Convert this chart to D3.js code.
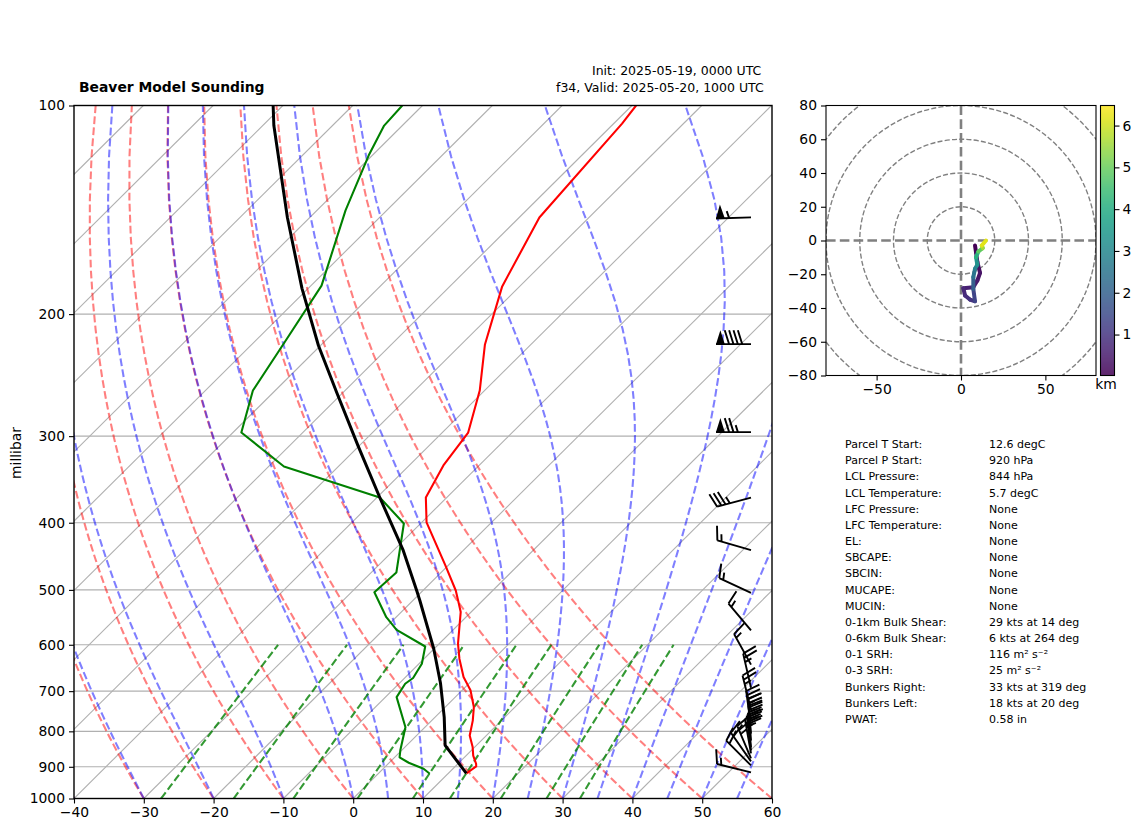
<!DOCTYPE html>
<html>
<head>
<meta charset="utf-8">
<script src="https://cdn.jsdelivr.net/npm/d3@7"></script>
<style>
  body { margin: 0; background: #fff; }
  text { font-family: "DejaVu Sans", sans-serif; fill: #000; }
  .tick text { font-size: 13.89px; }
</style>
</head>
<body>
<div id="chart"></div>
<script>
/* Sounding values */
const tempP = [100, 106.2, 145.1, 182.4, 221.2, 257.8, 296.4, 330.7, 367.8, 399.6, 461, 501, 523, 538, 598, 629, 668, 698, 738, 772, 811, 843, 867, 891, 899, 920];
const tempC = [-59.4, -58.8, -57.1, -52.5, -46.6, -40.7, -36.3, -35.1, -33, -29.3, -20.4, -15.3, -13, -11.5, -7.3, -4.9, -1.7, 1.2, 4.1, 5.9, 7.6, 9.7, 11, 12.6, 13, 12.6];

const dewP = [100, 106.9, 118.1, 141.7, 181.9, 219.8, 257.8, 296.4, 331.8, 367.8, 401, 472, 504, 547.5, 571, 603.5, 639, 670, 683, 714, 789, 852, 872, 888, 906, 921];
const dewC = [-92.9, -92.6, -90.5, -85.9, -78.5, -75.6, -73.2, -68.8, -57.8, -39.6, -32.4, -26.4, -26.7, -21.4, -18.1, -11.6, -9.6, -8.8, -9.1, -8.4, -2.8, -0.2, 0.7, 2.8, 5.8, 7.4];

const parcelP = [100, 106.9, 145.1, 183.6, 222, 260.4, 309.6, 367.8, 438.6, 501, 518, 607.5, 682, 763, 838, 920];
const parcelC = [-111.4, -108.4, -93.2, -80.9, -70.3, -60.7, -50.2, -39.6, -28.6, -20.9, -19, -10.1, -4.1, 1.3, 5.5, 12.6];

const barbP = [145, 221, 296, 368, 438, 505, 572, 641, 692, 744, 785, 806, 825, 844, 852, 861, 875, 884, 896, 917];
const barbSpeed = [55, 90, 75, 35, 15, 15, 15, 15, 25, 25, 35, 35, 35, 35, 30, 25, 25, 20, 20, 15];
const barbDir = [268, 270, 270, 255, 286, 295, 320, 331, 347, 346, 352, 355, 356, 355, 353, 350, 337, 325, 315, 284];

const hodoU = [8.3, 8.9, 9.7, 11.3, 9.7, 7.3, 1.4, 2.4, 5.3, 8.3, 7.3, 7.3, 8.3, 9.7, 8.9, 10.3, 12.9, 12.3, 14.8];
const hodoV = [-3, -6.9, -12.8, -19.2, -23.7, -27.7, -28.3, -32.6, -35, -36, -28.7, -21.7, -16.8, -14.4, -9.9, -6.5, -4.5, -3, 0];
const hodoKm = [0.02, 0.1, 0.2, 0.3, 0.42, 0.55, 0.7, 0.8, 0.95, 1.1, 1.6, 2.3, 2.7, 3.0, 3.7, 4.5, 5.3, 5.9, 6.48];

/* Ticks and reference line starts */
const pressureTicks = [100, 200, 300, 400, 500, 600, 700, 800, 900, 1000];
const tempTicks = d3.range(-40, 61, 10);
const isotherms = d3.range(-130, 61, 10);
const dryStarts = d3.range(-40, 61, 10);
const moistStarts = [-40, -30, -20, -10, 0, 5, 10, 15, 20, 25, 30, 35, 40, 45, 50, 55, 60];
const mixingRatios = [0.0004, 0.001, 0.002, 0.004, 0.007, 0.01, 0.016, 0.024, 0.032];
const hodoRings = [20, 40, 60, 80, 100];
const hodoXTicks = [-50, 0, 50];
const hodoYTicks = [-80, -60, -40, -20, 0, 20, 40, 60, 80];
const kmTicks = [1, 2, 3, 4, 5, 6];

/* Text table */
const statLabels = ["Parcel T Start:", "Parcel P Start:", "LCL Pressure:", "LCL Temperature:", "LFC Pressure:", "LFC Temperature:", "EL:", "SBCAPE:", "SBCIN:", "MUCAPE:", "MUCIN:", "0-1km Bulk Shear:", "0-6km Bulk Shear:", "0-1 SRH:", "0-3 SRH:", "Bunkers Right:", "Bunkers Left:", "PWAT:"];
const statValues = ["12.6 degC", "920 hPa", "844 hPa", "5.7 degC", "None", "None", "None", "None", "None", "None", "None", "29 kts at 14 deg", "6 kts at 264 deg", "116 m² s⁻²", "25 m² s⁻²", "33 kts at 319 deg", "18 kts at 20 deg", "0.58 in"];

/* Layout */
const plot = { left: 74, right: 772, top: 105.5, bottom: 798.5 };
const hodoBox = { left: 826, right: 1096, top: 105.5, bottom: 375.5 };
const barBox = { left: 1100.5, right: 1114.5 };
const skew = 1.0065;
const barbX = 751;
const barbLength = 35;

const minusFormat = d => String(d).replace("-", "\u2212");

const svg = d3.select("#chart").append("svg")
  .attr("width", 1142)
  .attr("height", 832);

/* Scales */
const xTemp = d3.scaleLinear().domain([-40, 60]).range([plot.left, plot.right]);
const yPres = d3.scaleLog().domain([1000, 100]).range([plot.bottom, plot.top]);
const xHodo = d3.scaleLinear().domain([-80, 80]).range([hodoBox.left, hodoBox.right]);
const yHodo = d3.scaleLinear().domain([-80, 80]).range([hodoBox.bottom, hodoBox.top]);
const yKm = d3.scaleLinear().domain([0.02, 6.48]).range([hodoBox.bottom, hodoBox.top]);

// Skewed x position of a temperature at a pressure
function skewX(t, p) {
  return xTemp(t) + (plot.bottom - yPres(p)) * skew;
}

const skewLine = d3.line().x(d => skewX(d[0], d[1])).y(d => yPres(d[1]));

/* Thermodynamics for the reference curves */
const Rd = 287.05, Cp = 1005, Lv = 2.501e6, eps = 0.622;

function satVapor(tC) {
  return 6.112 * Math.exp(17.67 * tC / (tC + 243.5));
}

function dryAdiabat(t0, p) {
  return (t0 + 273.15) * Math.pow(p / 1000, Rd / Cp) - 273.15;
}

function moistSlope(tK, p) {
  let es = satVapor(tK - 273.15);
  let rs = eps * es / (p - es);
  return ((Rd * tK + Lv * rs) / (Cp + Lv * Lv * rs * eps / (Rd * tK * tK))) / p;
}

// Steps a moist adiabat up from 1000 hPa
function moistAdiabat(t0, pressures) {
  let out = [];
  let tK = t0 + 273.15;
  let prev = 1000;
  pressures.forEach(function(p) {
    let n = 4;
    let h = (p - prev) / n;
    for (let i = 0; i < n; i++) {
      let q = prev + i * h;
      let k1 = moistSlope(tK, q);
      let k2 = moistSlope(tK + h * k1 / 2, q + h / 2);
      let k3 = moistSlope(tK + h * k2 / 2, q + h / 2);
      let k4 = moistSlope(tK + h * k3, q + h);
      tK += h * (k1 + 2 * k2 + 2 * k3 + k4) / 6;
    }
    prev = p;
    out.push([tK - 273.15, p]);
  });
  return out;
}

function mixingDewpoint(w, p) {
  let l = Math.log(p * w / (eps + w) / 6.112);
  return 243.5 * l / (17.67 - l);
}

/* Skew-T panel */
svg.append("clipPath").attr("id", "plotClip").append("rect")
  .attr("x", plot.left).attr("y", plot.top)
  .attr("width", plot.right - plot.left)
  .attr("height", plot.bottom - plot.top);

const skewG = svg.append("g").attr("clip-path", "url(#plotClip)");

// Pressure and skewed temperature grid
skewG.selectAll(".pgrid").data(pressureTicks).join("line")
  .attr("x1", plot.left).attr("x2", plot.right)
  .attr("y1", d => yPres(d)).attr("y2", d => yPres(d))
  .attr("stroke", "#b0b0b0").attr("stroke-width", 1.1);

skewG.selectAll(".tgrid").data(isotherms).join("line")
  .attr("x1", d => skewX(d, 1000)).attr("x2", d => skewX(d, 100))
  .attr("y1", plot.bottom).attr("y2", plot.top)
  .attr("stroke", "#b0b0b0").attr("stroke-width", 1.1);

const pressures = d3.range(50).map(i => 1000 - i * 900 / 49);
const mixPressures = d3.range(50).map(i => 1000 - i * 400 / 49);

function drawRefs(rows, color, opacity) {
  skewG.append("g").selectAll("path").data(rows).join("path")
    .attr("d", skewLine)
    .attr("fill", "none")
    .attr("stroke", color)
    .attr("stroke-opacity", opacity)
    .attr("stroke-width", 2.08)
    .attr("stroke-dasharray", "7.7 3.33");
}

drawRefs(dryStarts.map(t0 => pressures.map(p => [dryAdiabat(t0, p), p])), "#ff0000", 0.5);
drawRefs(moistStarts.map(t0 => moistAdiabat(t0, pressures)), "#0000ff", 0.5);
drawRefs(mixingRatios.map(w => mixPressures.map(p => [mixingDewpoint(w, p), p])), "#008000", 0.8);

// Sounding traces
function drawTrace(ps, ts, color, width) {
  skewG.append("path")
    .datum(ps.map((p, i) => [ts[i], p]))
    .attr("d", skewLine)
    .attr("fill", "none")
    .attr("stroke", color)
    .attr("stroke-width", width)
    .attr("stroke-linejoin", "round");
}

drawTrace(tempP, tempC, "#ff0000", 2.08);
drawTrace(dewP, dewC, "#008000", 2.08);
drawTrace(parcelP, parcelC, "#000000", 3);

/* Wind barbs */
function barbParts(p, speed, dir) {
  const rad = dir * Math.PI / 180;
  const tx = Math.sin(rad), ty = -Math.cos(rad);
  const nx = -ty, ny = tx;
  const height = barbLength * 0.4;
  const width = barbLength * 0.25;
  const space = barbLength * 0.125;
  const bx = barbX, by = yPres(p);
  const at = (along, side) => [bx + tx * along + nx * side, by + ty * along + ny * side].join(",");

  let flags = Math.floor(speed / 50);
  let fulls = Math.floor((speed - flags * 50) / 10);
  let half = (speed - flags * 50 - fulls * 10) >= 5;
  let offset = barbLength;
  let lines = "M" + at(0, 0) + "L" + at(barbLength, 0);
  let polys = "";

  for (let i = 0; i < flags; i++) {
    polys += "M" + at(offset, 0) + "L" + at(offset - width / 2, height) + "L" + at(offset - width, 0) + "Z";
    offset -= width + space;
  }
  for (let i = 0; i < fulls; i++) {
    lines += "M" + at(offset, 0) + "L" + at(offset + width / 2, height);
    offset -= space;
  }
  if (half) {
    if (flags + fulls === 0) offset -= space;
    lines += "M" + at(offset, 0) + "L" + at(offset + width / 4, height / 2);
  }
  return { lines: lines, polys: polys };
}

const barbG = svg.append("g");
barbP.forEach(function(p, i) {
  let parts = barbParts(p, barbSpeed[i], barbDir[i]);
  barbG.append("path").attr("d", parts.lines)
    .attr("fill", "none").attr("stroke", "#000").attr("stroke-width", 1.9);
  barbG.append("path").attr("d", parts.polys).attr("fill", "#000").attr("stroke", "none");
});

/* Skew-T frame and axes */
svg.append("rect")
  .attr("x", plot.left).attr("y", plot.top)
  .attr("width", plot.right - plot.left)
  .attr("height", plot.bottom - plot.top)
  .attr("fill", "none").attr("stroke", "#000").attr("stroke-width", 1.4);

function styleAxis(g) {
  g.select(".domain").remove();
  g.selectAll(".tick line").attr("stroke", "#000").attr("stroke-width", 1.1);
  g.selectAll(".tick text").attr("font-family", "DejaVu Sans");
}

svg.append("g")
  .attr("transform", "translate(0," + plot.bottom + ")")
  .call(d3.axisBottom(xTemp).tickValues(tempTicks).tickSize(5).tickPadding(4).tickFormat(minusFormat))
  .call(styleAxis);

svg.append("g")
  .attr("transform", "translate(" + plot.left + ",0)")
  .call(d3.axisLeft(yPres).tickValues(pressureTicks).tickSize(5).tickPadding(4).tickFormat(d => d))
  .call(styleAxis);

svg.append("text")
  .attr("transform", "translate(21,453) rotate(-90)")
  .attr("text-anchor", "middle")
  .attr("font-size", 13.89)
  .text("millibar");

svg.append("text").attr("x", 79).attr("y", 92)
  .attr("font-size", 13.89).attr("font-weight", "bold")
  .text("Beaver Model Sounding");
svg.append("text").attr("x", 592).attr("y", 75)
  .attr("font-size", 12.5).text("Init: 2025-05-19, 0000 UTC");
svg.append("text").attr("x", 556).attr("y", 92)
  .attr("font-size", 12.5).text("f34, Valid: 2025-05-20, 1000 UTC");

/* Hodograph */
svg.append("clipPath").attr("id", "hodoClip").append("rect")
  .attr("x", hodoBox.left).attr("y", hodoBox.top)
  .attr("width", hodoBox.right - hodoBox.left)
  .attr("height", hodoBox.bottom - hodoBox.top);

const hodoG = svg.append("g").attr("clip-path", "url(#hodoClip)");

hodoG.selectAll("circle").data(hodoRings).join("circle")
  .attr("cx", xHodo(0)).attr("cy", yHodo(0))
  .attr("r", d => xHodo(d) - xHodo(0))
  .attr("fill", "none").attr("stroke", "#808080")
  .attr("stroke-width", 1.39).attr("stroke-dasharray", "5.1 2.2");

hodoG.append("line")
  .attr("x1", hodoBox.left).attr("x2", hodoBox.right)
  .attr("y1", yHodo(0)).attr("y2", yHodo(0))
  .attr("stroke", "#808080").attr("stroke-width", 2.6).attr("stroke-dasharray", "9.6 4.2");
hodoG.append("line")
  .attr("x1", xHodo(0)).attr("x2", xHodo(0))
  .attr("y1", hodoBox.top).attr("y2", hodoBox.bottom)
  .attr("stroke", "#808080").attr("stroke-width", 2.6).attr("stroke-dasharray", "9.6 4.2");

// Colour runs on height
const kmColor = d3.scaleSequential(d3.interpolateViridis).domain([0.02, 6.48]);

hodoG.selectAll(".seg").data(d3.range(hodoU.length - 1)).join("line")
  .attr("x1", i => xHodo(hodoU[i])).attr("y1", i => yHodo(hodoV[i]))
  .attr("x2", i => xHodo(hodoU[i + 1])).attr("y2", i => yHodo(hodoV[i + 1]))
  .attr("stroke", i => kmColor((hodoKm[i] + hodoKm[i + 1]) / 2))
  .attr("stroke-width", 4)
  .attr("stroke-linecap", "round");

svg.append("rect")
  .attr("x", hodoBox.left).attr("y", hodoBox.top)
  .attr("width", hodoBox.right - hodoBox.left)
  .attr("height", hodoBox.bottom - hodoBox.top)
  .attr("fill", "none").attr("stroke", "#000").attr("stroke-width", 1.1);

svg.append("g")
  .attr("transform", "translate(0," + hodoBox.bottom + ")")
  .call(d3.axisBottom(xHodo).tickValues(hodoXTicks).tickSize(5).tickPadding(4).tickFormat(minusFormat))
  .call(styleAxis);

svg.append("g")
  .attr("transform", "translate(" + hodoBox.left + ",0)")
  .call(d3.axisLeft(yHodo).tickValues(hodoYTicks).tickSize(5).tickPadding(4).tickFormat(minusFormat))
  .call(styleAxis);

/* Colorbar */
const barSteps = d3.range(hodoBox.top, hodoBox.bottom, 1);
svg.append("g").selectAll("rect").data(barSteps).join("rect")
  .attr("x", barBox.left).attr("y", d => d)
  .attr("width", barBox.right - barBox.left)
  .attr("height", 1.2)
  .attr("fill", d => kmColor(yKm.invert(d + 0.5)));

svg.append("rect")
  .attr("x", barBox.left).attr("y", hodoBox.top)
  .attr("width", barBox.right - barBox.left)
  .attr("height", hodoBox.bottom - hodoBox.top)
  .attr("fill", "none").attr("stroke", "#000").attr("stroke-width", 1.1);

svg.append("g")
  .attr("transform", "translate(" + barBox.right + ",0)")
  .call(d3.axisRight(yKm).tickValues(kmTicks).tickSize(5).tickPadding(3).tickFormat(d => d))
  .call(styleAxis);

svg.append("text").attr("x", 1106).attr("y", 389)
  .attr("text-anchor", "middle").attr("font-size", 13.89).text("km");

/* Stats table */
const statY = d3.scaleLinear().domain([0, statLabels.length - 1]).range([448, 723]);

svg.append("g").selectAll("text").data(statLabels).join("text")
  .attr("x", 845).attr("y", (d, i) => statY(i))
  .attr("font-size", 11).text(d => d);

svg.append("g").selectAll("text").data(statValues).join("text")
  .attr("x", 989).attr("y", (d, i) => statY(i))
  .attr("font-size", 11).text(d => d);
</script>
</body>
</html>
